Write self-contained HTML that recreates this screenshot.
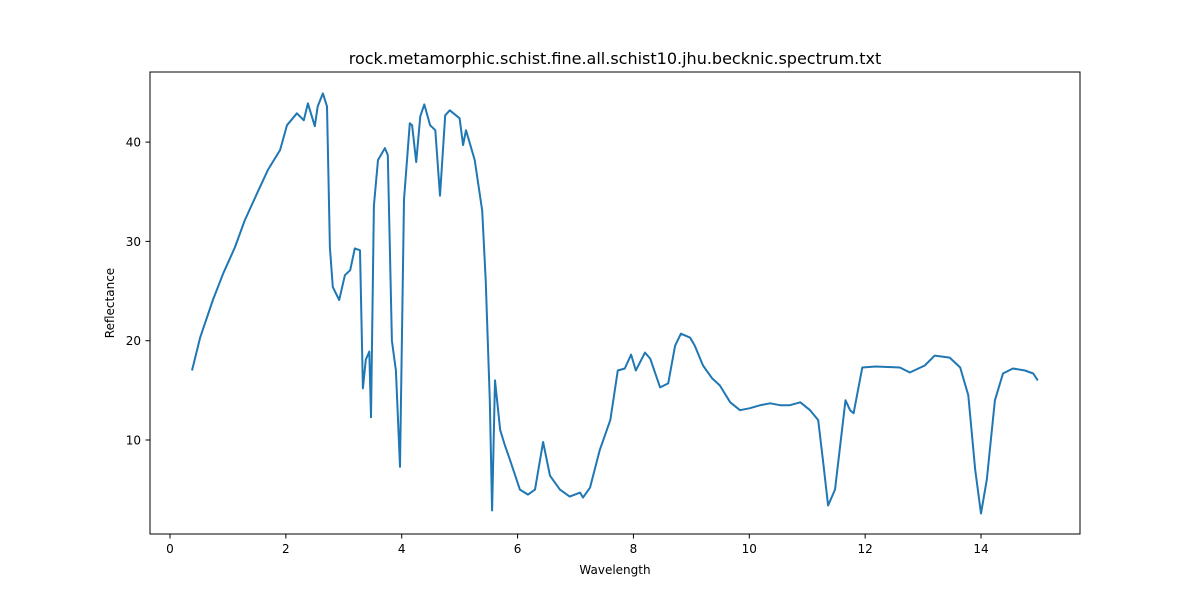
<!DOCTYPE html>
<html><head><meta charset="utf-8"><style>
body{margin:0;background:#fff;}
svg text{font-family:"DejaVu Sans","Liberation Sans",sans-serif;font-size:12px;fill:#000;}
</style></head><body>
<svg id="chart" width="1200" height="600">
<rect width="1200" height="600" fill="#fff"/>
<text x="615" y="64" text-anchor="middle" style="font-size:16px">rock.metamorphic.schist.fine.all.schist10.jhu.becknic.spectrum.txt</text>
<g id="xt"></g>
<g id="yt"></g>
<polyline id="line" fill="none" stroke="#1f77b4" stroke-width="2" stroke-linejoin="round"/>
<rect x="150" y="72" width="930" height="462" fill="none" stroke="#000" stroke-width="1"/>
<text x="615" y="574" text-anchor="middle">Wavelength</text>
<text x="114" y="303" text-anchor="middle" transform="rotate(-90 114 303)">Reflectance</text>
</svg>
<script>
const wavelengths=[0.38,0.52,0.74,0.92,1.12,1.29,1.5,1.69,1.9,2.02,2.19,2.31,2.38,2.5,2.55,2.64,2.71,2.76,2.81,2.92,3.02,3.11,3.19,3.28,3.33,3.38,3.44,3.47,3.52,3.59,3.71,3.76,3.83,3.9,3.97,4.04,4.14,4.18,4.25,4.32,4.39,4.49,4.58,4.66,4.75,4.83,5.0,5.06,5.11,5.26,5.39,5.45,5.52,5.56,5.61,5.7,5.78,5.87,6.04,6.18,6.3,6.44,6.56,6.73,6.9,7.08,7.13,7.25,7.42,7.6,7.73,7.85,7.96,8.04,8.2,8.29,8.46,8.6,8.72,8.82,8.98,9.06,9.2,9.36,9.49,9.67,9.84,10.01,10.19,10.36,10.53,10.7,10.88,11.05,11.19,11.27,11.36,11.48,11.66,11.74,11.8,11.95,12.18,12.6,12.77,13.03,13.2,13.46,13.64,13.78,13.9,14.0,14.1,14.24,14.38,14.55,14.76,14.9,14.98];
const reflectance=[17.0,20.3,24.1,26.8,29.4,32.1,34.8,37.2,39.2,41.7,42.9,42.2,43.9,41.6,43.6,44.9,43.6,29.4,25.4,24.1,26.6,27.1,29.3,29.1,15.2,18.1,18.9,12.3,33.6,38.2,39.4,38.7,20,17,7.3,34.2,41.9,41.7,38,42.6,43.8,41.7,41.2,34.6,42.7,43.2,42.4,39.7,41.2,38.2,33.1,26.1,14,2.9,16,11,9.5,8,5,4.5,5,9.8,6.4,5,4.3,4.7,4.2,5.2,9,12,17,17.2,18.6,17,18.8,18.2,15.3,15.7,19.5,20.7,20.3,19.5,17.5,16.2,15.5,13.8,13,13.2,13.5,13.7,13.5,13.5,13.8,13,12,8,3.4,5,14,13,12.7,17.3,17.4,17.3,16.8,17.5,18.5,18.3,17.3,14.5,7,2.6,6,14,16.7,17.2,17,16.7,16];
const xTicks=[0,2,4,6,8,10,12,14];
const yTicks=[10,20,30,40];
const NS='http://www.w3.org/2000/svg';
const xs=v=>170+v*57.93, ys=v=>539.3-v*9.93;
const xt=document.getElementById('xt'), yt=document.getElementById('yt');
xTicks.forEach(t=>{
 const l=document.createElementNS(NS,'line');l.setAttribute('x1',xs(t));l.setAttribute('x2',xs(t));l.setAttribute('y1',534);l.setAttribute('y2',538.5);l.setAttribute('stroke','#000');
 
 
 xt.appendChild(l);
 const tx=document.createElementNS(NS,'text');tx.setAttribute('x',xs(t));tx.setAttribute('y',553);tx.setAttribute('text-anchor','middle');tx.textContent=t;
 
 
 xt.appendChild(tx);
});
yTicks.forEach(t=>{
 const l=document.createElementNS(NS,'line');l.setAttribute('x1',145.5);l.setAttribute('x2',150);l.setAttribute('y1',ys(t));l.setAttribute('y2',ys(t));l.setAttribute('stroke','#000');
 
 
 yt.appendChild(l);
 const tx=document.createElementNS(NS,'text');tx.setAttribute('x',141);tx.setAttribute('y',ys(t)+4.5);tx.setAttribute('text-anchor','end');tx.textContent=t;
 
 
 yt.appendChild(tx);
});
document.getElementById('line').setAttribute('points',wavelengths.map((w,i)=>xs(w).toFixed(1)+','+ys(reflectance[i]).toFixed(1)).join(' '));
</script>
</body></html>
